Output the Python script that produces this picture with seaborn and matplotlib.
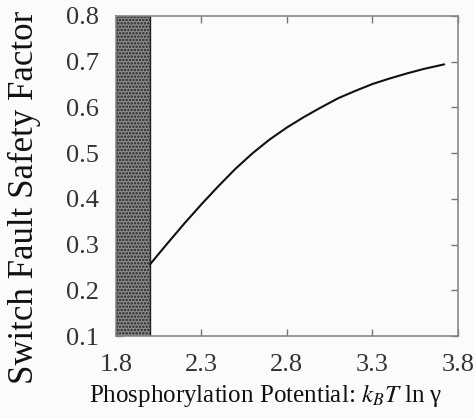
import numpy as np
import pandas as pd
import matplotlib
matplotlib.use('Agg')
import matplotlib.pyplot as plt
import seaborn as sns

# Curve
potential = [2.0, 2.1, 2.2, 2.3, 2.4, 2.5, 2.6, 2.7, 2.8, 2.9, 3.0,
             3.1, 3.2, 3.3, 3.4, 3.5, 3.6, 3.72]
safetyFactor = [0.257, 0.302, 0.346, 0.388, 0.428, 0.466, 0.500, 0.530,
                0.556, 0.579, 0.600, 0.620, 0.636, 0.651, 0.663, 0.674,
                0.684, 0.694]

# Forbidden (shaded) band
bandX = [1.8, 2.0]
bandY = [0.1, 0.8]

xTicks = [1.8, 2.3, 2.8, 3.3, 3.8]
yTicks = [0.1, 0.2, 0.3, 0.4, 0.5, 0.6, 0.7, 0.8]

sns.set_style('ticks')
plt.rcParams['font.family'] = ['Liberation Serif', 'DejaVu Serif']
plt.rcParams['mathtext.fontset'] = 'stix'
plt.rcParams['hatch.color'] = '#3a3a3a'
plt.rcParams['hatch.linewidth'] = 1.2

bg = '#fbfbfb'
fig = plt.figure(figsize=(4.75, 4.18), dpi=100, facecolor=bg)
ax = fig.add_axes([0.244, 0.196, 0.720, 0.766])
ax.set_facecolor(bg)

curveData = pd.DataFrame({'x': potential, 'y': safetyFactor})
sns.lineplot(data=curveData, x='x', y='y', ax=ax, color='#111111', linewidth=1.5)

ax.fill_between(bandX, bandY[0], bandY[1], facecolor='#8c8c8c',
                edgecolor='#222222', hatch='.....', linewidth=1.0, zorder=1)

ax.set_xlim(xTicks[0], xTicks[-1])
ax.set_ylim(yTicks[0], yTicks[-1])
ax.set_xticks(xTicks)
ax.set_yticks(yTicks)
ax.set_xticklabels([f'{t:.1f}' for t in xTicks])
ax.set_yticklabels([f'{t:.1f}' for t in yTicks])

ax.tick_params(direction='in', length=5, width=1, color='#777777',
               labelsize=19, labelcolor='#333333', top=True, right=True)
ax.tick_params(axis='y', pad=12)
ax.tick_params(axis='x', pad=13)
for s in ax.spines.values():
    s.set_color('#888888')
    s.set_linewidth(1.2)

ax.set_xlabel(r'Phosphorylation Potential: $k_B T$ ln γ', fontsize=18,
              color='#111111')
ax.xaxis.set_label_coords(0.437, -0.145)
ax.set_ylabel('Switch Fault Safety Factor', fontsize=25, color='#111111')
ax.yaxis.set_label_coords(-0.22, 0.434)

fig.savefig('out.png', dpi=100, facecolor=bg)
